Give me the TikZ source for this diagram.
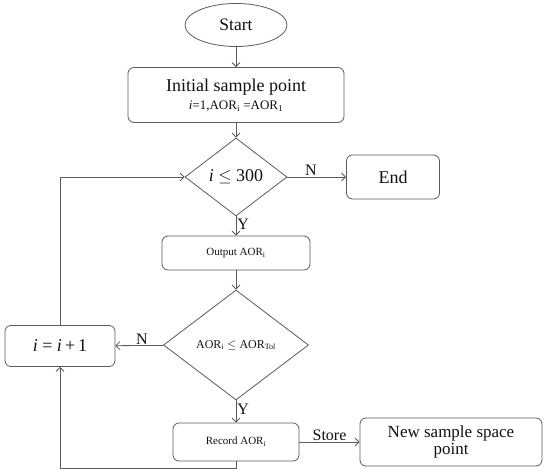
\documentclass[tikz,border=0pt]{standalone}
\usepackage{fontspec}
\setmainfont{Liberation Serif}
\usepackage{xcolor}
\definecolor{lineGray}{HTML}{5A5A5A}
\definecolor{darkText}{HTML}{111111}
\usetikzlibrary{
    shapes.geometric,
    arrows.meta,
    positioning
}
\tikzset{
    % Base style for all nodes
    flow base/.style={
        align=center,
        text=darkText,
        draw=lineGray,
        line width=0.8pt,
        inner sep=2pt,
    },
    % Start node - plain ellipse
    startstop/.style={
        flow base,
        ellipse,
        minimum width=102pt,
        minimum height=43pt,
        font=\fontsize{17.5}{19}\selectfont,
    },
    % Process nodes - rounded rectangle
    process/.style={
        flow base,
        rectangle,
        rounded corners=6pt,
    },
    % Decision diamond
    decision/.style={
        flow base,
        diamond,
        inner sep=0pt,
    },
    % Thin open arrow
    arrow/.style={
        -{Straight Barb[length=4pt, width=8pt]},
        line width=0.8pt,
        draw=lineGray,
    },
    % Label style for Y/N/Store
    edge label/.style={
        font=\fontsize{16}{18}\selectfont,
        text=darkText,
        inner sep=1pt,
    },
}

\begin{document}
\begin{tikzpicture}[x=1pt, y=-1pt]
    \useasboundingbox (0,0) rectangle (550,476);

    \node (start) [startstop] at (236,25) {Start};
    \node (init) [process, minimum width=216pt, minimum height=55pt,
        font=\fontsize{18}{20}\selectfont] at (236,95)
        {Initial sample point\\[-2pt]
         {\fontsize{13}{14}\selectfont\textit{i}=1,AOR\textsubscript{i} =AOR\textsubscript{1}}};
    \node (check) [decision, minimum width=102pt, minimum height=78pt,
        font=\fontsize{18}{20}\selectfont] at (236,177) {\textit{i} $\leq$ 300};
    \node (end) [process, minimum width=93pt, minimum height=44pt,
        font=\fontsize{18}{20}\selectfont] at (393,177) {End};
    \node (output) [process, minimum width=148pt, minimum height=34pt,
        font=\fontsize{11}{13}\selectfont] at (236,253) {Output AOR\textsubscript{i}};
    \node (tol) [decision, minimum width=145pt, minimum height=110pt,
        font=\fontsize{12}{14}\selectfont] at (236,345)
        {AOR\textsubscript{i} $\leq$ AOR\textsubscript{Tol}};
    \node (incr) [process, minimum width=110pt, minimum height=41pt,
        font=\fontsize{18}{20}\selectfont] at (60,346) {\textit{i} = \textit{i}\,+\,1};
    \node (record) [process, minimum width=126pt, minimum height=38pt,
        font=\fontsize{11}{13}\selectfont] at (236,442) {Record AOR\textsubscript{i}};
    \node (newpt) [process, minimum width=182pt, minimum height=48pt,
        font=\fontsize{17}{17}\selectfont] at (451,442) {New sample space\\point};
    \coordinate (loopbot) at (236,468);

    \draw [arrow] (start) -- (init);
    \draw [arrow] (init) -- (check);
    \draw [arrow] (check) -- node [edge label, above, pos=0.4] {N} (end);
    \draw [arrow] (check) -- node [edge label, right, pos=0.4] {Y} (output);
    \draw [arrow] (output) -- (tol);
    \draw [arrow] (tol) -- node [edge label, above, pos=0.45] {N} (incr);
    \draw [arrow] (tol) -- node [edge label, right, pos=0.4] {Y} (record);
    \draw [arrow] (record) -- node [edge label, above] {Store} (newpt);
    \draw [arrow] (record) -- (loopbot) -| (incr);
    \draw [arrow] (incr) |- (check);
\end{tikzpicture}
\end{document}
